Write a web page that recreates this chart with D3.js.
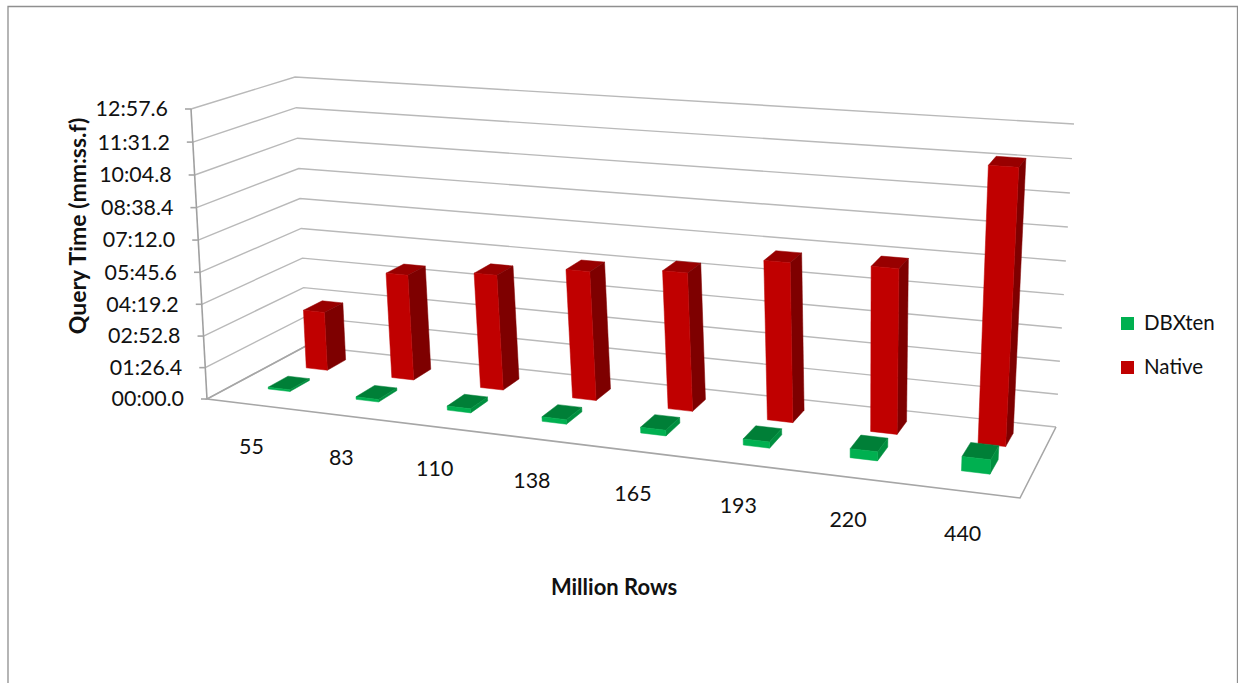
<!DOCTYPE html>
<html>
<head>
<meta charset="utf-8">
<script src="https://cdn.jsdelivr.net/npm/d3@7/dist/d3.min.js"></script>
<style>
html,body{margin:0;padding:0;background:#fff;overflow:hidden}
text{font-family:Lato,"Open Sans",sans-serif;fill:#111}
</style>
</head>
<body>
<svg id="chart" width="1238" height="683"></svg>
<script>
// Query durations in seconds, per row count
const categories = ["55","83","110","138","165","193","220","440"];
const dbxten = [5,7,11,12,15,16,23,36];
const native = [165,293,316,349,369,419,428,703];
const seriesNames = ["DBXten","Native"];
const seriesColors = {
  DBXten:{front:"#00B050",side:"#008F3F",top:"#007F37"},
  Native:{front:"#C00000",side:"#7E0000",top:"#980000"}
};
const tickValues = [0,86.4,172.8,259.2,345.6,432,518.4,604.8,691.2,777.6];
const tickLabels = ["00:00.0","01:26.4","02:52.8","04:19.2","05:45.6","07:12.0","08:38.4","10:04.8","11:31.2","12:57.6"];

// Camera: where the corners of the plot box land on the page
const floorQuad = [[207,399],[1020,498],[1056,427],[306,346]];
const ceilQuad  = [[191,109],[1041,171],[1074,124],[295,77]];
const heightWarp = 0.97;

// Plane-to-quad perspective mapping
function planeMap(q){
  const [[x0,y0],[x1,y1],[x2,y2],[x3,y3]] = q;
  const dx1=x1-x2,dx2=x3-x2,dx3=x0-x1+x2-x3,dy1=y1-y2,dy2=y3-y2,dy3=y0-y1+y2-y3;
  const det=dx1*dy2-dx2*dy1;
  const g=(dx3*dy2-dx2*dy3)/det,h=(dx1*dy3-dx3*dy1)/det;
  const a=x1-x0+g*x1,b=x3-x0+h*x3,d=y1-y0+g*y1,e=y3-y0+h*y3;
  return (u,v)=>{const w=g*u+h*v+1;return [(a*u+b*v+x0)/w,(d*u+e*v+y0)/w];};
}
const floorMap=planeMap(floorQuad), ceilMap=planeMap(ceilQuad);

const xBand=d3.scaleBand().domain(categories).range([0.004,1.004]).paddingInner(0.75).paddingOuter(0.375);
const depthBand=d3.scaleBand().domain(seriesNames).range([0.25,0.84]).paddingInner(0.487).paddingOuter(0);
const yScale=d3.scaleLinear().domain([0,777.6]).range([0,1]);

function project(u,v,value){
  const s=yScale(value), t=heightWarp*s/(1+(heightWarp-1)*s);
  const a=floorMap(u,v),b=ceilMap(u,v);
  return [a[0]+(b[0]-a[0])*t,a[1]+(b[1]-a[1])*t];
}
const svg=d3.select("#chart");
const poly=pts=>"M"+pts.map(p=>p.map(n=>n.toFixed(2)).join(",")).join("L")+"Z";
const polyline=d3.line();

// Outer frame of the chart area
svg.append("path").attr("d","M8,683V6.5H1237.5V683").attr("fill","none").attr("stroke","#8f8f8f").attr("stroke-width",1.3);

// Walls: one gridline per tick, running along the back and then down the side
const grid=svg.append("g").attr("fill","none").attr("stroke","#b9b9b9").attr("stroke-width",1.4);
tickValues.forEach(val=>{
  grid.append("path").attr("d",polyline([project(1,1,val),project(0,1,val),project(0,0,val)]));
});

// Floor outline and the value axis
const frame=svg.append("g").attr("fill","none").attr("stroke","#a6a6a6").attr("stroke-width",1.6);
frame.append("path").attr("d",polyline([project(0,1,0),project(0,0,0),project(1,0,0),project(1,1,0)]));
frame.append("path").attr("d",polyline([project(0,0,0),project(0,0,777.6)])).attr("stroke","#a0a0a0");

// Value ticks and labels
const fontSize=21.4;
tickValues.forEach((val,i)=>{
  const p=project(0,0,val);
  frame.append("path").attr("d",polyline([[p[0]-6,p[1]],p]));
  svg.append("text").attr("x",p[0]-23).attr("y",p[1]+2).attr("text-anchor","end")
    .attr("dominant-baseline","middle").attr("font-size",fontSize).text(tickLabels[i]);
});

// Bars, rear series first so the front row overlaps it
function drawSeries(name,values){
  const c=seriesColors[name], g=svg.append("g");
  const d0=depthBand(name), d1=d0+depthBand.bandwidth();
  const face=(color,pts)=>g.append("path").attr("fill",color).attr("stroke",color).attr("stroke-width",0.5).attr("d",poly(pts));
  values.forEach((val,i)=>{
    const u0=xBand(categories[i]), u1=u0+xBand.bandwidth();
    face(c.top,[project(u0,d0,val),project(u1,d0,val),project(u1,d1,val),project(u0,d1,val)]);
    face(c.side,[project(u1,d0,0),project(u1,d1,0),project(u1,d1,val),project(u1,d0,val)]);
    face(c.front,[project(u0,d0,0),project(u1,d0,0),project(u1,d0,val),project(u0,d0,val)]);
  });
}
drawSeries("Native",native);
drawSeries("DBXten",dbxten);

// Category labels hang a fixed distance below the front edge of the floor
categories.forEach(cat=>{
  const p=project(xBand(cat)+xBand.bandwidth()/2,0,0);
  svg.append("text").attr("x",p[0]-2).attr("y",p[1]+44).attr("text-anchor","middle")
    .attr("dominant-baseline","middle").attr("font-size",fontSize).text(cat);
});

// Axis titles
svg.append("text").attr("x",614).attr("y",589).attr("text-anchor","middle").attr("dominant-baseline","middle")
  .attr("font-size",22).attr("font-weight",700).text("Million Rows");
svg.append("text").attr("transform","translate(80,226) rotate(-90)").attr("text-anchor","middle").attr("dominant-baseline","middle")
  .attr("font-size",23).attr("font-weight",700).text("Query Time (mm:ss.f)");

// Legend
const legendY=d3.scalePoint().domain(seriesNames).range([323.5,367.5]);
seriesNames.forEach(n=>{
  svg.append("rect").attr("x",1121).attr("y",legendY(n)-6.5).attr("width",13).attr("height",13).attr("fill",seriesColors[n].front);
  svg.append("text").attr("x",1144).attr("y",legendY(n)+1.5).attr("dominant-baseline","middle").attr("font-size",20.5).text(n);
});
</script>
</body>
</html>
